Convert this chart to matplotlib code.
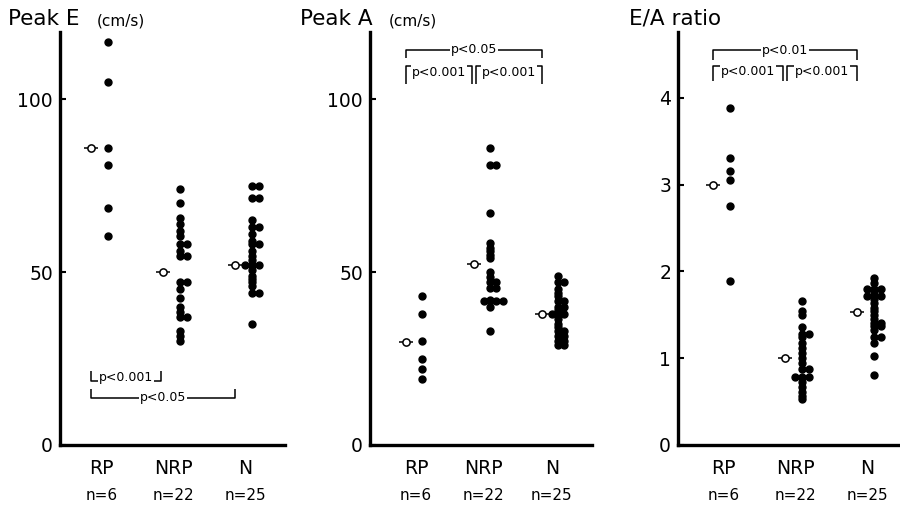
import matplotlib

matplotlib.use("Agg")
import matplotlib.pyplot as plt
from collections import Counter

plt.rcParams["font.family"] = ["DejaVu Sans"]

categories = ["RP", "NRP", "N"]
n_labels = ["n=6", "n=22", "n=25"]

# Peak E (cm/s)
peak_e_rp = [116.5, 105, 86, 81, 68.5, 60.5]
peak_e_nrp = [74, 70, 65.5, 64, 62, 60.5, 58, 58, 56, 54.5, 54.5, 47, 47,
              45, 42.5, 40, 38.5, 37, 37, 33, 31.5, 30]
peak_e_n = [75, 75, 71.5, 71.5, 65, 63, 63, 61, 59, 58, 58, 56, 54.5, 53.5,
            52, 52, 52, 50.5, 49, 48, 47, 46, 44, 44, 35]
peak_e_means = [86, 50, 52]

# Peak A (cm/s)
peak_a_rp = [43, 38, 30, 25, 22, 19]
peak_a_nrp = [86, 81, 81, 67, 58.5, 57, 56, 55, 54, 50, 48.5, 47, 47, 45.5,
              45.5, 42, 41.5, 41.5, 41.5, 41.5, 40, 33]
peak_a_n = [49, 47, 47, 45, 44, 43, 41.5, 41.5, 40, 40, 39, 38, 38, 38, 36.5,
            35, 34, 33, 33, 31.5, 31.5, 30, 30, 29, 29]
peak_a_means = [29.7, 52.2, 38]

# E/A ratio
ratio_rp = [3.88, 3.31, 3.16, 3.06, 2.75, 1.89]
ratio_nrp = [1.66, 1.55, 1.50, 1.36, 1.28, 1.28, 1.24, 1.18, 1.12, 1.06, 1.0,
             0.94, 0.88, 0.88, 0.78, 0.78, 0.78, 0.73, 0.67, 0.61, 0.56, 0.53]
ratio_n = [1.92, 1.87, 1.80, 1.80, 1.80, 1.76, 1.72, 1.72, 1.72, 1.68, 1.64,
           1.58, 1.55, 1.50, 1.45, 1.41, 1.41, 1.37, 1.37, 1.32, 1.25, 1.25,
           1.18, 1.03, 0.81]
ratio_means = [3.0, 1.0, 1.53]

MEAN_SHIFT = 0.24
TIE_STEP = 0.095


def tie_offsets(values):
    """Place exactly equal values side by side: centre, right, left, ..."""
    seen = Counter()
    order = [0, 1, -1, 2, -2, 3, -3]
    offsets = []
    for v in values:
        offsets.append(order[seen[v]] * TIE_STEP)
        seen[v] += 1
    return offsets


def bracket(ax, x1, x2, y, tip, text, text_y):
    ax.plot([x1, x1, x2, x2], [y + tip, y, y, y + tip], color="black",
            lw=1.1, solid_capstyle="butt", zorder=2, clip_on=False)
    ax.text((x1 + x2) / 2, text_y, text, ha="center", va="center",
            fontsize=9, zorder=3,
            bbox=dict(facecolor="white", edgecolor="none", pad=0.6))


def draw_panel(ax, groups, means, yticks, ylim, xlim):
    for i, values in enumerate(groups):
        xpos = i + 1
        offs = tie_offsets(values)
        ax.plot([xpos + o for o in offs], values, "o", color="black",
                markersize=5.0, zorder=4, clip_on=False)
        mx = xpos - MEAN_SHIFT
        ax.plot([mx], [means[i]], marker="_", color="black", markersize=9.5,
                mew=1.1, zorder=4)
        ax.plot([mx], [means[i]], marker="o", mfc="white", mec="black",
                markersize=5.2, mew=1.1, zorder=5)
        tr = ax.get_xaxis_transform()
        ax.text(xpos - 0.09, -0.058, categories[i], transform=tr,
                ha="center", va="center", fontsize=13.5)
        ax.text(xpos - 0.09, -0.123, n_labels[i], transform=tr,
                ha="center", va="center", fontsize=11)
    ax.set_xlim(*xlim)
    ax.set_ylim(*ylim)
    ax.set_xticks([])
    ax.set_yticks(yticks)
    ax.set_yticklabels([str(t) for t in yticks], fontsize=13.5)
    ax.tick_params(axis="y", direction="in", length=4, width=1.5, pad=5)
    for side in ("top", "right"):
        ax.spines[side].set_visible(False)
    for side in ("left", "bottom"):
        ax.spines[side].set_linewidth(2.4)


fig = plt.figure(figsize=(9, 5.08), dpi=100)
W, H = 900, 508
bottom = 63 / H
height = 413 / H

ax1 = fig.add_axes([60 / W, bottom, 225 / W, height])
draw_panel(ax1, [peak_e_rp, peak_e_nrp, peak_e_n], peak_e_means,
           [0, 50, 100], (0, 119.4), (1 - 48 / 72, 1 - 48 / 72 + 225 / 72))
m = [i + 1 - MEAN_SHIFT for i in range(3)]
bracket(ax1, m[0], m[1] - 0.03, 18.5, 3.0, "p<0.001", 19.6)
bracket(ax1, m[0], m[2], 13.6, 2.6, "p<0.05", 13.6)

ax2 = fig.add_axes([370 / W, bottom, 222 / W, height])
draw_panel(ax2, [peak_a_rp, peak_a_nrp, peak_a_n], peak_a_means,
           [0, 50, 100], (0, 119.4), (1 - 52 / 68, 1 - 52 / 68 + 222 / 68))
bracket(ax2, m[0], m[2], 114.2, -2.4, "p<0.05", 114.2)
bracket(ax2, m[0], m[1] - 0.03, 109.5, -5.2, "p<0.001", 107.8)
bracket(ax2, m[1] + 0.03, m[2], 109.5, -5.2, "p<0.001", 107.8)

ax3 = fig.add_axes([678 / W, bottom, 222 / W, height])
draw_panel(ax3, [ratio_rp, ratio_nrp, ratio_n], ratio_means,
           [0, 1, 2, 3, 4], (0, 4.76), (1 - 52 / 72, 1 - 52 / 72 + 222 / 72))
bracket(ax3, m[0], m[2], 4.55, -0.11, "p<0.01", 4.55)
bracket(ax3, m[0], m[1] - 0.03, 4.37, -0.17, "p<0.001", 4.31)
bracket(ax3, m[1] + 0.03, m[2], 4.37, -0.17, "p<0.001", 4.31)

# panel titles
fig.text(8 / W, 1 - 25 / H, "Peak E", fontsize=15.5, va="baseline")
fig.text(97 / W, 1 - 25 / H, "(cm/s)", fontsize=11, va="baseline")
fig.text(300 / W, 1 - 25 / H, "Peak A", fontsize=15.5, va="baseline")
fig.text(389 / W, 1 - 25 / H, "(cm/s)", fontsize=11, va="baseline")
fig.text(629 / W, 1 - 25 / H, "E/A ratio", fontsize=15.5, va="baseline")

fig.savefig("out.png", dpi=100)
